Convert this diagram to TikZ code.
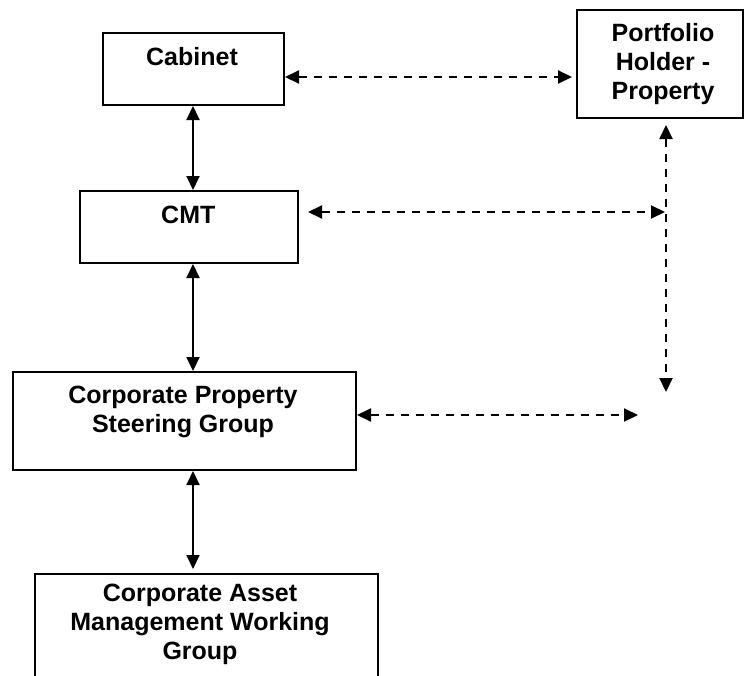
\documentclass[tikz,border=0pt]{standalone}
\usepackage{fontspec}
\setmainfont{Liberation Sans}
\usetikzlibrary{arrows.meta}
\begin{document}
\begin{tikzpicture}[x=1pt,y=-1pt,
  box/.style={draw, line width=2pt, rectangle, inner sep=0pt, anchor=north west},
  lbl/.style={anchor=north, inner sep=0pt, align=center, font=\bfseries\fontsize{25}{29}\selectfont},
  solidarr/.style={line width=2pt, {Triangle[length=14pt,width=13pt]}-{Triangle[length=14pt,width=13pt]}},
  dasharr/.style={line width=2pt, dash pattern=on 8pt off 7pt, {Triangle[length=14pt,width=13pt]}-{Triangle[length=14pt,width=13pt]}}
]
\clip (0,0) rectangle (744,675);
\fill[white] (0,0) rectangle (744,675);
% boxes
\node[box, minimum width=181pt, minimum height=72pt] (cab) at (102,32) {};
\node[box, minimum width=166pt, minimum height=108pt] (port) at (576,9) {};
\node[box, minimum width=218pt, minimum height=72pt] (cmt) at (79,190) {};
\node[box, minimum width=343pt, minimum height=98pt] (cpsg) at (12,371) {};
\node[box, minimum width=343pt, minimum height=127pt] (camwg) at (34,573) {};
% labels
\node[lbl] (tcab) at (192,45.4) {\strut Cabinet};
\node[lbl] (tport) at (663,21.4) {\strut Portfolio\\Holder -\\Property};
\node[lbl] (tcmt) at (188.3,202.7) {\strut CMT};
\node[lbl] (tcpsg) at (183,383) {\strut Corporate Property\\Steering Group};
\node[lbl] (tcamwg) at (200,581) {\strut Corporate Asset\\Management Working\\Group};
% coordinates
\coordinate (spine) at (193,0);
\coordinate (y1) at (0,77);
\coordinate (c2) at (665,212);
\coordinate (v2) at (666,392);
\coordinate (c3) at (638,415);
% solid connectors
\draw[solidarr] (cab.south -| spine) -- (cmt.north -| spine);
\draw[solidarr] (cmt.south -| spine) -- (cpsg.north -| spine);
\draw[solidarr, shorten >=4pt] (cpsg.south -| spine) -- (camwg.north -| spine);
% dashed connectors
\draw[dasharr, shorten >=4pt] (cab.east |- y1) -- (port.west |- y1);
\draw[dasharr, shorten <=9pt] (cmt.east |- c2) -- (c2);
\draw[dasharr, shorten <=6pt] (port.south -| v2) -- (v2);
\draw[dasharr] (cpsg.east |- c3) -- (c3);
\end{tikzpicture}
\end{document}
